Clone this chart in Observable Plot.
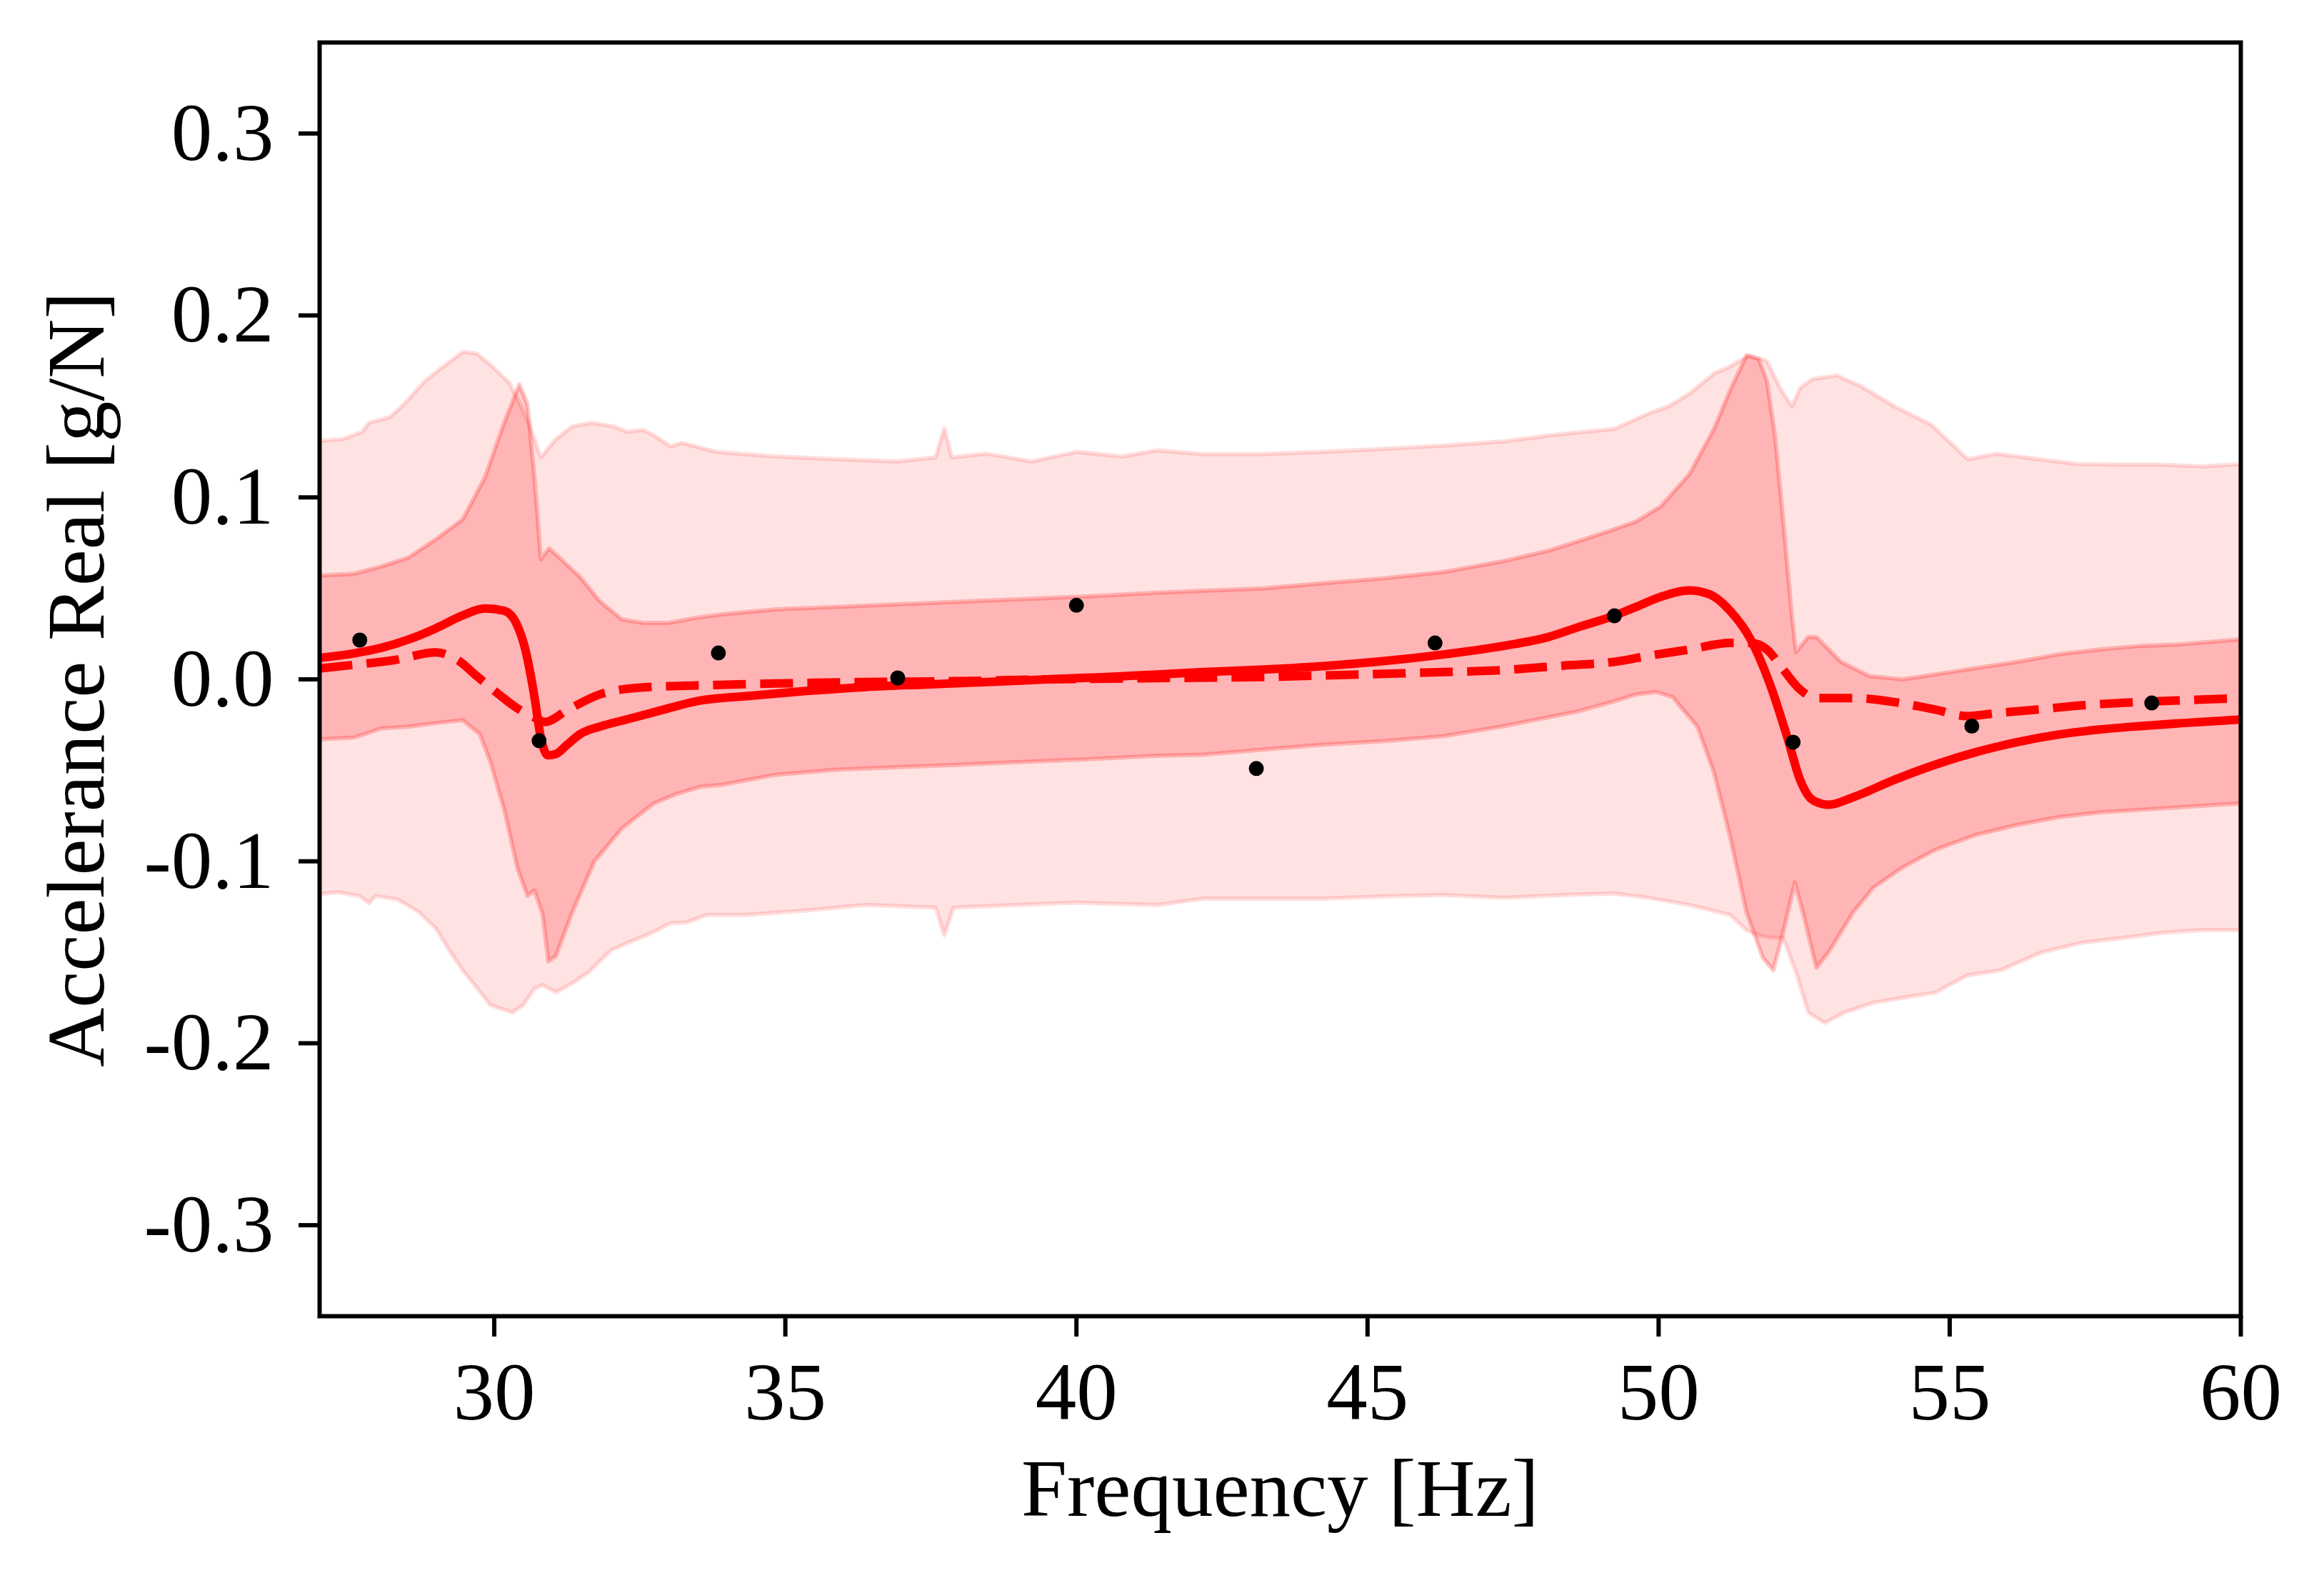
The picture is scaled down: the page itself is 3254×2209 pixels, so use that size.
<!DOCTYPE html>
<html>
<head>
<meta charset="utf-8">
<script src="https://cdn.jsdelivr.net/npm/d3@7"></script>
<script src="https://cdn.jsdelivr.net/npm/@observablehq/plot@0.6"></script>
<style>
  html, body { margin: 0; padding: 0; background: #ffffff; }
</style>
</head>
<body>
<script>
// ---- Tick labels ----
const xTicks = [30, 35, 40, 45, 50, 55, 60];
const yTicks = [-0.3, -0.2, -0.1, 0, 0.1, 0.2, 0.3];
const xLabel = "Frequency [Hz]";
const yLabel = "Accelerance Real [g/N]";

// ---- Outer (light) band: upper edge ----
const outerHiF = [27.0, 27.40, 27.73, 27.85, 28.20, 28.38, 28.53, 28.81, 29.09, 29.46, 29.70, 29.93, 30.26, 30.43, 30.59, 30.80, 31.06, 31.34, 31.67, 32.05, 32.28, 32.56, 32.75, 33.03, 33.22, 33.81, 34.84, 35.87, 36.91, 37.58, 37.73, 37.86, 38.46, 39.23, 40.00, 40.78, 41.39, 42.18, 43.21, 44.24, 45.27, 46.31, 47.34, 48.11, 48.63, 49.24, 49.82, 50.17, 50.53, 50.95, 51.23, 51.55, 51.86, 52.07, 52.29, 52.43, 52.64, 53.06, 53.48, 54.05, 54.68, 55.31, 55.81, 56.51, 57.21, 57.92, 58.62, 59.33, 60.0];
const outerHiV = [0.131, 0.132, 0.136, 0.141, 0.144, 0.149, 0.154, 0.164, 0.171, 0.180, 0.179, 0.173, 0.163, 0.152, 0.141, 0.122, 0.132, 0.139, 0.141, 0.139, 0.136, 0.137, 0.134, 0.128, 0.130, 0.125, 0.1225, 0.121, 0.1197, 0.122, 0.138, 0.122, 0.124, 0.1197, 0.125, 0.1225, 0.1258, 0.1238, 0.1238, 0.125, 0.1266, 0.1285, 0.1307, 0.134, 0.1357, 0.1376, 0.146, 0.150, 0.157, 0.168, 0.172, 0.178, 0.175, 0.161, 0.150, 0.160, 0.165, 0.167, 0.161, 0.150, 0.140, 0.121, 0.124, 0.121, 0.1183, 0.118, 0.118, 0.117, 0.1183];

// ---- Outer (light) band: lower edge ----
const outerLoF = [27.0, 27.31, 27.68, 27.85, 27.96, 28.34, 28.71, 29.00, 29.23, 29.46, 29.75, 29.93, 30.31, 30.50, 30.69, 30.83, 31.06, 31.34, 31.62, 32.00, 32.28, 32.66, 33.03, 33.29, 33.65, 34.33, 35.36, 36.39, 37.58, 37.73, 37.89, 38.97, 40.00, 41.39, 42.18, 43.21, 44.24, 45.27, 46.31, 47.34, 48.37, 49.24, 49.82, 50.53, 51.23, 51.51, 51.72, 51.93, 52.14, 52.36, 52.57, 52.85, 53.20, 53.69, 54.19, 54.75, 55.31, 55.88, 56.58, 57.28, 57.99, 58.69, 59.33, 60.0];
const outerLoV = [-0.118, -0.117, -0.119, -0.123, -0.119, -0.121, -0.128, -0.137, -0.149, -0.160, -0.1715, -0.179, -0.183, -0.179, -0.170, -0.168, -0.172, -0.167, -0.161, -0.149, -0.145, -0.140, -0.134, -0.1337, -0.1295, -0.1295, -0.127, -0.124, -0.1254, -0.1405, -0.1254, -0.124, -0.1227, -0.124, -0.1205, -0.1205, -0.1205, -0.1193, -0.1185, -0.120, -0.1185, -0.1177, -0.120, -0.124, -0.1295, -0.1378, -0.1406, -0.142, -0.142, -0.161, -0.183, -0.1888, -0.183, -0.1777, -0.175, -0.1722, -0.1626, -0.1598, -0.150, -0.1447, -0.142, -0.1392, -0.1378, -0.1378];

// ---- Inner (dark) band: upper edge ----
const innerHiF = [27.0, 27.59, 28.06, 28.53, 29.00, 29.46, 29.84, 30.17, 30.43, 30.57, 30.69, 30.80, 30.94, 31.15, 31.48, 31.81, 32.19, 32.56, 32.99, 33.50, 33.91, 34.84, 35.87, 36.91, 37.94, 38.97, 40.00, 41.39, 42.18, 43.21, 44.24, 45.27, 46.31, 47.34, 48.11, 48.63, 49.24, 49.61, 50.03, 50.53, 50.95, 51.23, 51.51, 51.72, 51.86, 52.00, 52.14, 52.29, 52.36, 52.57, 52.71, 53.13, 53.62, 54.19, 54.75, 55.45, 56.16, 56.86, 57.57, 58.27, 58.97, 60.0];
const innerHiV = [0.057, 0.058, 0.062, 0.067, 0.077, 0.088, 0.111, 0.141, 0.162, 0.151, 0.111, 0.066, 0.072, 0.066, 0.056, 0.043, 0.033, 0.031, 0.031, 0.034, 0.0357, 0.0385, 0.0398, 0.0412, 0.0426, 0.044, 0.0453, 0.0476, 0.0487, 0.050, 0.0528, 0.0555, 0.059, 0.065, 0.0707, 0.076, 0.0825, 0.0867, 0.0949, 0.1128, 0.1376, 0.159, 0.178, 0.176, 0.164, 0.1335, 0.087, 0.0343, 0.015, 0.0233, 0.0233, 0.0096, 0.0018, 0.0, 0.0027, 0.0062, 0.0096, 0.0137, 0.0164, 0.0184, 0.0192, 0.022];

// ---- Inner (dark) band: lower edge ----
const innerLoF = [27.0, 27.59, 28.06, 28.53, 29.00, 29.46, 29.75, 29.93, 30.17, 30.40, 30.57, 30.69, 30.83, 30.93, 31.06, 31.34, 31.72, 32.19, 32.75, 33.13, 33.54, 33.91, 34.84, 35.87, 36.91, 37.94, 38.97, 40.00, 41.39, 42.18, 43.21, 44.24, 45.27, 46.31, 47.34, 48.11, 48.63, 49.24, 49.61, 49.96, 50.24, 50.67, 50.95, 51.23, 51.51, 51.79, 51.97, 52.14, 52.34, 52.50, 52.71, 52.92, 53.34, 53.69, 54.19, 54.75, 55.45, 56.16, 56.86, 57.57, 58.27, 58.97, 60.0];
const innerLoV = [-0.033, -0.032, -0.027, -0.026, -0.024, -0.0225, -0.030, -0.045, -0.0715, -0.104, -0.119, -0.116, -0.129, -0.155, -0.152, -0.128, -0.100, -0.082, -0.068, -0.063, -0.059, -0.058, -0.0524, -0.0497, -0.0483, -0.047, -0.0455, -0.0442, -0.042, -0.0414, -0.0386, -0.0359, -0.034, -0.0312, -0.0257, -0.0208, -0.0175, -0.012, -0.0083, -0.007, -0.0097, -0.0262, -0.0511, -0.0868, -0.1281, -0.153, -0.1598, -0.139, -0.1116, -0.1309, -0.1585, -0.150, -0.1281, -0.1144, -0.1034, -0.0937, -0.0855, -0.080, -0.0758, -0.0731, -0.0717, -0.0703, -0.0681];

// ---- Solid mean line ----
const solidF = [27.0, 27.59, 28.06, 28.53, 29.00, 29.46, 29.84, 30.17, 30.38, 30.54, 30.69, 30.80, 30.92, 31.06, 31.25, 31.48, 31.81, 32.28, 32.75, 33.54, 34.33, 35.36, 36.39, 37.42, 38.46, 39.49, 40.52, 41.39, 42.18, 43.21, 44.24, 45.27, 46.31, 47.34, 48.11, 48.63, 49.24, 49.61, 50.03, 50.53, 50.88, 51.23, 51.58, 51.93, 52.21, 52.43, 52.64, 52.92, 53.34, 54.05, 54.75, 55.45, 56.16, 56.86, 57.57, 58.27, 58.97, 60.0];
const solidV = [0.0118, 0.0143, 0.0173, 0.0219, 0.0281, 0.0352, 0.039, 0.0377, 0.0307, 0.0156, -0.0095, -0.032, -0.0417, -0.041, -0.036, -0.030, -0.026, -0.022, -0.018, -0.0116, -0.0092, -0.0064, -0.0042, -0.0028, -0.0015, 0.0, 0.0013, 0.0027, 0.004, 0.0054, 0.0073, 0.010, 0.0137, 0.0184, 0.0233, 0.0288, 0.035, 0.0398, 0.0453, 0.0489, 0.0467, 0.0376, 0.022, -0.0042, -0.0318, -0.0552, -0.0662, -0.0689, -0.0648, -0.0552, -0.0469, -0.040, -0.0345, -0.0304, -0.0276, -0.0257, -0.0241, -0.0221];

// ---- Dashed line ----
const dashF = [27.0, 27.59, 28.29, 29.00, 29.37, 29.70, 30.08, 30.40, 30.69, 30.87, 31.25, 31.81, 32.52, 33.54, 34.84, 36.39, 37.94, 39.49, 41.39, 43.21, 44.24, 45.27, 46.31, 47.34, 48.37, 49.24, 49.82, 50.53, 51.23, 51.58, 51.86, 52.14, 52.43, 52.71, 53.34, 54.05, 54.75, 55.31, 55.81, 56.51, 57.21, 57.92, 58.62, 59.33, 60.0];
const dashV = [0.006, 0.008, 0.0106, 0.0148, 0.0106, 0.0018, -0.0083, -0.016, -0.021, -0.0234, -0.017, -0.0083, -0.0045, -0.0033, -0.0023, -0.0015, -0.001, 0.0, 0.0007, 0.0013, 0.0021, 0.003, 0.004, 0.0051, 0.0076, 0.0096, 0.0129, 0.0164, 0.020, 0.020, 0.0164, 0.0054, -0.0056, -0.0103, -0.0103, -0.0125, -0.0166, -0.0202, -0.0185, -0.0166, -0.0144, -0.013, -0.012, -0.0111, -0.0103];

// ---- Measured points ----
const pointF = [27.69, 30.77, 33.85, 36.93, 40.00, 43.09, 46.16, 49.24, 52.31, 55.38, 58.47];
const pointV = [0.0216, -0.0337, 0.0145, 0.0008, 0.0407, -0.049, 0.020, 0.0349, -0.0345, -0.0257, -0.013];

// ---- Build tables ----
const toRows = (F, V) => F.map((f, i) => ({f, v: V[i]}));
// closed band polygon: upper edge left->right, lower edge right->left
const band = (hF, hV, lF, lV) => toRows(hF, hV).concat(toRows(lF, lV).reverse());

const outerBand = band(outerHiF, outerHiV, outerLoF, outerLoV);
const innerBand = band(innerHiF, innerHiV, innerLoF, innerLoV);
const solid = toRows(solidF, solidV);
const dashed = toRows(dashF, dashV);
const points = toRows(pointF, pointV);

const FONT = "'Liberation Serif', 'DejaVu Serif', serif";

const chart = Plot.plot({
  width: 3254,
  height: 2209,
  marginLeft: 447,
  marginRight: 117,
  marginTop: 59,
  marginBottom: 367,
  style: {fontFamily: FONT, fontSize: "115px", background: "#ffffff", color: "#000000"},
  x: {domain: [27, 60]},
  y: {domain: [-0.35, 0.35]},
  marks: [
    Plot.line(outerBand, {x: "f", y: "v", fill: "red", fillOpacity: 0.11, stroke: "red", strokeOpacity: 0.13, strokeWidth: 6, curve: "linear", clip: true}),
    Plot.line(innerBand, {x: "f", y: "v", fill: "red", fillOpacity: 0.2, stroke: "red", strokeOpacity: 0.22, strokeWidth: 6, curve: "linear", clip: true}),
    Plot.line(solid, {x: "f", y: "v", stroke: "#ff0000", strokeWidth: 12, curve: "monotone-x", clip: true}),
    Plot.line(dashed, {x: "f", y: "v", stroke: "#ff0000", strokeWidth: 12, strokeDasharray: "46,20", strokeLinecap: "butt", curve: "monotone-x", clip: true}),
    Plot.dot(points, {x: "f", y: "v", r: 10.5, fill: "#000000", stroke: null}),
    Plot.frame({stroke: "#000000", strokeWidth: 6}),
    Plot.axisX({ticks: xTicks, tickFormat: d => String(d), tickSize: 29, tickPadding: 34, strokeWidth: 6, label: null}),
    Plot.axisY({ticks: yTicks, tickFormat: d => (d === 0 ? "0.0" : d.toFixed(1)), tickSize: 29, tickPadding: 35, strokeWidth: 6, label: null}),
    Plot.text([xLabel], {frameAnchor: "bottom", dy: 243, text: d => d, fontSize: 115, fontFamily: FONT, fill: "#000000", textAnchor: "middle", lineAnchor: "middle"}),
    Plot.text([yLabel], {frameAnchor: "left", dx: -339, rotate: -90, text: d => d, fontSize: 115, fontFamily: FONT, fill: "#000000", textAnchor: "middle", lineAnchor: "middle"})
  ]
});

document.body.appendChild(chart);
</script>
</body>
</html>
